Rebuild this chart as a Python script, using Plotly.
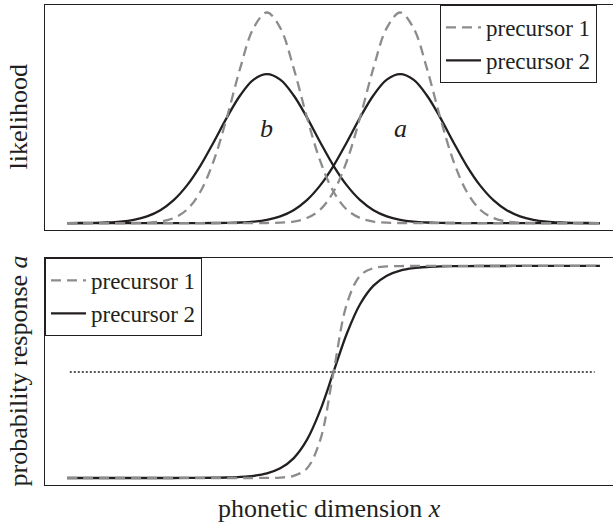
import plotly.graph_objects as go
from plotly.subplots import make_subplots

# phonetic dimension grid (0..20 in steps of 0.5)
x_vals = [0, 0.5, 1, 1.5, 2, 2.5, 3, 3.5, 4, 4.5, 5, 5.5, 6, 6.5, 7, 7.5, 8, 8.5, 9, 9.5,
          10, 10.5, 11, 11.5, 12, 12.5, 13, 13.5, 14, 14.5, 15, 15.5, 16, 16.5, 17, 17.5,
          18, 18.5, 19, 19.5, 20]

# top panel: likelihoods of category b and a
p1_b = [0, 0, 0, 0, 0.0001, 0.0005, 0.0021, 0.0076, 0.024, 0.064, 0.149, 0.295, 0.503,
        0.737, 0.927, 1.0, 0.927, 0.737, 0.503, 0.295, 0.149, 0.064, 0.024, 0.0076, 0.0021,
        0.0005, 0.0001, 0, 0, 0, 0, 0, 0, 0, 0, 0, 0, 0, 0, 0, 0]
p1_a = [0, 0, 0, 0, 0, 0, 0, 0, 0, 0, 0, 0, 0, 0, 0.0001, 0.0005, 0.0021, 0.0076, 0.024,
        0.064, 0.149, 0.295, 0.503, 0.737, 0.927, 1.0, 0.927, 0.737, 0.503, 0.295, 0.149,
        0.064, 0.024, 0.0076, 0.0021, 0.0005, 0.0001, 0, 0, 0, 0]
p2_b = [0.0001, 0.0004, 0.0011, 0.0029, 0.0070, 0.0156, 0.0322, 0.0615, 0.109, 0.179,
        0.272, 0.384, 0.502, 0.607, 0.681, 0.707, 0.681, 0.607, 0.502, 0.384, 0.272, 0.179,
        0.109, 0.0615, 0.0322, 0.0156, 0.0070, 0.0029, 0.0011, 0.0004, 0.0001, 0, 0, 0, 0,
        0, 0, 0, 0, 0, 0]
p2_a = [0, 0, 0, 0, 0, 0, 0, 0, 0, 0, 0.0001, 0.0004, 0.0011, 0.0029, 0.0070, 0.0156,
        0.0322, 0.0615, 0.109, 0.179, 0.272, 0.384, 0.502, 0.607, 0.681, 0.707, 0.681,
        0.607, 0.502, 0.384, 0.272, 0.179, 0.109, 0.0615, 0.0322, 0.0156, 0.0070, 0.0029,
        0.0011, 0.0004, 0.0001]

# bottom panel: probability of responding a
resp_p1 = [0, 0, 0, 0, 0, 0, 0, 0, 0, 0, 0, 0, 0, 0, 0.0001, 0.0005, 0.0022, 0.0102,
           0.0452, 0.179, 0.5, 0.821, 0.9548, 0.9898, 0.9978, 0.9995, 0.9999, 1, 1, 1, 1,
           1, 1, 1, 1, 1, 1, 1, 1, 1, 1]
resp_p2 = [0, 0, 0, 0, 0, 0, 0, 0.0001, 0.0001, 0.0002, 0.0005, 0.0011, 0.0023, 0.0049,
           0.0104, 0.0219, 0.0457, 0.0928, 0.1795, 0.3187, 0.5, 0.6813, 0.8205, 0.9072,
           0.9543, 0.9781, 0.9896, 0.9951, 0.9977, 0.9989, 0.9995, 0.9998, 0.9999, 0.9999,
           1, 1, 1, 1, 1, 1, 1]

threshold_x = [0.1, 19.8]
threshold_y = [0.5, 0.5]

cat_labels = ['b', 'a']
cat_x = [7.5, 12.5]
cat_y = [0.45, 0.45]

series_names = ['precursor 1', 'precursor 2']

FONT = 'Liberation Serif'
INK = '#231f20'
GREY = '#8c8c8c'
DASH = '10px,6px'
LW = 2.3

fig = make_subplots(rows=2, cols=1)

# top panel
for i, ys in enumerate([p2_b, p2_a]):
    fig.add_trace(go.Scatter(x=x_vals, y=ys, mode='lines', line_shape='spline',
                             line=dict(color=INK, width=LW), name=series_names[1],
                             showlegend=(i == 0), legend='legend', legendrank=2),
                  row=1, col=1)
for i, ys in enumerate([p1_b, p1_a]):
    fig.add_trace(go.Scatter(x=x_vals, y=ys, mode='lines', line_shape='spline',
                             line=dict(color=GREY, width=LW, dash=DASH), name=series_names[0],
                             showlegend=(i == 0), legend='legend', legendrank=1),
                  row=1, col=1)

# bottom panel
fig.add_trace(go.Scatter(x=threshold_x, y=threshold_y, mode='lines',
                         line=dict(color='#222222', width=1.3, dash='2px,2px'),
                         showlegend=False), row=2, col=1)
fig.add_trace(go.Scatter(x=x_vals, y=resp_p2, mode='lines', line_shape='spline',
                         line=dict(color=INK, width=LW), name=series_names[1],
                         legend='legend2', legendrank=2), row=2, col=1)
fig.add_trace(go.Scatter(x=x_vals, y=resp_p1, mode='lines', line_shape='spline',
                         line=dict(color=GREY, width=LW, dash=DASH), name=series_names[0],
                         legend='legend2', legendrank=1), row=2, col=1)

axis_style = dict(showline=True, mirror=True, linecolor=INK, linewidth=1.3,
                  showgrid=False, zeroline=False, showticklabels=False, ticks='')
fig.update_xaxes(range=[-0.83, 20.49], **axis_style)
fig.update_yaxes(**axis_style)

legend_font = dict(family=FONT, size=23, color=INK)
fig.update_layout(
    width=613, height=524,
    margin=dict(l=45, r=0, t=5, b=39),
    paper_bgcolor='white', plot_bgcolor='white',
    font=dict(family=FONT, size=26, color=INK),
    xaxis=dict(domain=[0, 1]),
    xaxis2=dict(domain=[0, 1]),
    yaxis=dict(domain=[0.531, 1], range=[-0.0333, 1.0356]),
    yaxis2=dict(domain=[0, 0.473], range=[-0.033, 1.0377]),
    legend=dict(x=0.6954, y=1, xanchor='left', yanchor='top', bgcolor='white',
                bordercolor=INK, borderwidth=1, font=legend_font, itemwidth=35),
    legend2=dict(x=0, y=0.473, xanchor='left', yanchor='top', bgcolor='white',
                 bordercolor=INK, borderwidth=1, font=legend_font, itemwidth=35),
)

for lab, lx, ly in zip(cat_labels, cat_x, cat_y):
    fig.add_annotation(x=lx, y=ly, xref='x', yref='y', text='<i>' + lab + '</i>',
                       showarrow=False, font=dict(family=FONT, size=26, color=INK))

fig.add_annotation(x=-0.0475, y=0.7656, xref='paper', yref='paper', text='likelihood',
                   textangle=-90, showarrow=False, xanchor='center', yanchor='middle')
fig.add_annotation(x=-0.0475, y=0.2365, xref='paper', yref='paper',
                   text='probability response <i>a</i>',
                   textangle=-90, showarrow=False, xanchor='center', yanchor='middle')
fig.add_annotation(x=0.5, y=-0.048, xref='paper', yref='paper',
                   text='phonetic dimension <i>x</i>',
                   showarrow=False, xanchor='center', yanchor='middle')

# drop the page's default body margin so the figure sits at the top-left corner
fig.write_html('out.html', config={'displayModeBar': False},
               post_script="document.body.style.margin='0';")
